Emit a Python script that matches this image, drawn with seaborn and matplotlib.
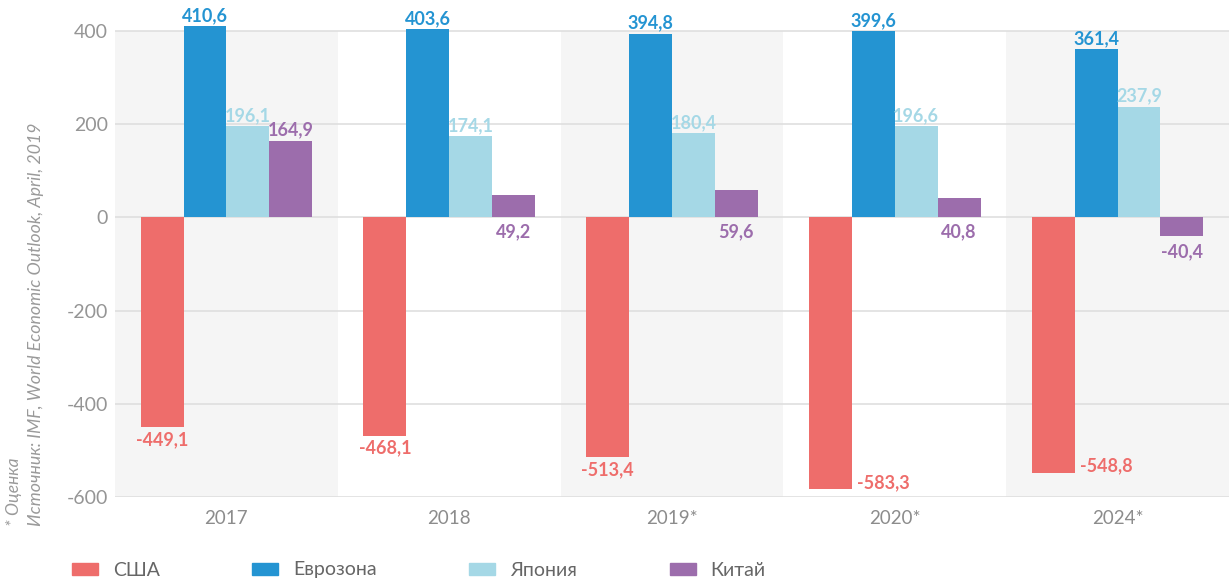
import numpy as np
import pandas as pd
import matplotlib
matplotlib.use("Agg")
import matplotlib.pyplot as plt
import seaborn as sns

# данные (млрд долл.)
years = ["2017", "2018", "2019*", "2020*", "2024*"]
countries = ["США", "Еврозона", "Япония", "Китай"]
usa = [-449.1, -468.1, -513.4, -583.3, -548.8]
eurozone = [410.6, 403.6, 394.8, 399.6, 361.4]
japan = [196.1, 174.1, 180.4, 196.6, 237.9]
china = [164.9, 49.2, 59.6, 40.8, -40.4]
colors = ["#EE6D6B", "#2494D2", "#A5D8E6", "#9C6DAC"]
y_ticks = [-600, -400, -200, 0, 200, 400]

series = [usa, eurozone, japan, china]
df = pd.DataFrame({
    "year": np.tile(years, len(countries)),
    "country": np.repeat(countries, len(years)),
    "value": np.concatenate(series),
})

sns.set_theme(style="white")
plt.rcParams["font.family"] = ["Lato", "DejaVu Sans"]

fig = plt.figure(figsize=(12.29, 5.81), dpi=100)
ax = fig.add_axes([115 / 1229, 1 - 497 / 581, 1 - 115 / 1229, (497 - 5) / 581])

ymin, ymax = -600, 456
ax.set_ylim(ymin, ymax)
ax.set_xlim(-0.5, len(years) - 0.5)

# чередующийся серый фон
band_top = (400 - ymin) / (ymax - ymin)
for i in range(0, len(years), 2):
    ax.axvspan(i - 0.5, i + 0.5, ymin=0, ymax=band_top, color="#F5F5F5", lw=0, zorder=0)

# линии сетки
for t in y_ticks:
    ax.axhline(t, color="#DDDDDD", lw=1.1, zorder=0.5)

sns.barplot(data=df, x="year", y="value", hue="country", hue_order=countries,
            order=years, palette=colors, width=0.77, saturation=1,
            linewidth=0, legend=False, ax=ax, zorder=2)
ax.set_xlim(-0.5, len(years) - 0.5)
ax.set_ylim(ymin, ymax)

# подписи значений
def fmt(v):
    return f"{v:.1f}".replace(".", ",")

for ci, (cont, vals) in enumerate(zip(ax.containers, series)):
    for bar, v in zip(cont.patches, vals):
        xc = bar.get_x() + bar.get_width() / 2
        kw = dict(color=colors[ci], fontsize=13, fontweight="bold",
                  textcoords="offset points", annotation_clip=False)
        if ci == 0:
            if v < -540:
                ax.annotate(fmt(v), (bar.get_x() + bar.get_width(), v), xytext=(4, 5),
                            ha="left", va="center", **kw)
            else:
                ax.annotate(fmt(v), (xc, v), xytext=(0, -3), ha="center", va="top", **kw)
        elif ci == 3 and 0 < v < 100:
            ax.annotate(fmt(v), (xc, 0), xytext=(0, -4), ha="center", va="top", **kw)
        elif v < 0:
            ax.annotate(fmt(v), (xc, v), xytext=(0, -5), ha="center", va="top", **kw)
        else:
            ax.annotate(fmt(v), (xc, v), xytext=(0, 1.5), ha="center", va="bottom", **kw)

ax.set_yticks(y_ticks)
ax.set_yticklabels([str(t) for t in y_ticks])
ax.tick_params(axis="y", length=0, pad=5, labelsize=14, labelcolor="#959595")
ax.tick_params(axis="x", length=0, pad=9, labelsize=13.5, labelcolor="#8C8C8C")
ax.set_xlabel("")
ax.set_ylabel("")
for s in ax.spines.values():
    s.set_visible(False)
ax.set_facecolor("none")

# легенда
handles = [plt.Rectangle((0, 0), 1, 1, color=c) for c in colors]
fig.legend(handles, countries, loc="center left", bbox_to_anchor=(72 / 1229, 1 - 570 / 581),
           ncol=4, frameon=False, fontsize=14, handlelength=1.34, handleheight=0.57,
           handletextpad=0.77, columnspacing=4.75, borderpad=0, borderaxespad=0,
           labelcolor="#666666")

# примечания
fig.text(14 / 1229, 1 - 526 / 581, "* Оценка", rotation=90, ha="center", va="bottom",
         fontsize=12.5, style="italic", color="#9A9A9A")
fig.text(36 / 1229, 1 - 526 / 581, "Источник: IMF, World Economic Outlook, April, 2019",
         rotation=90, ha="center", va="bottom", fontsize=12.8, style="italic",
         color="#9A9A9A")

fig.savefig("out.png", dpi=100)
